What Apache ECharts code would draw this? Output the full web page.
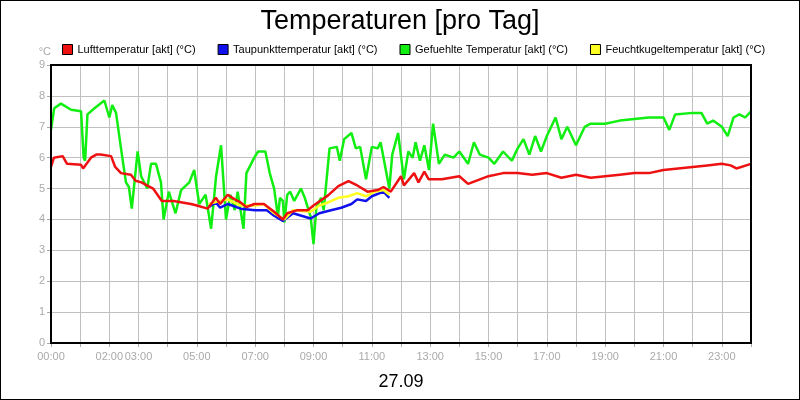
<!DOCTYPE html>
<html>
<head>
<meta charset="utf-8">
<script src="https://cdn.jsdelivr.net/npm/echarts@6/dist/echarts.min.js"></script>
<style>
html,body{margin:0;padding:0;background:#fff;}
#main{width:798px;height:398px;border:1px solid #000;}
</style>
</head>
<body>
<div id="main"></div>
<script>
// Zeit in Stunden, Wert in °C
var hourLabels = [0, 2, 3, 5, 7, 9, 11, 13, 15, 17, 19, 21, 23];

var luftTemp = [
  [0,5.7],[0.1,6.0],[0.4,6.05],[0.55,5.8],[1.03,5.77],[1.1,5.65],[1.37,6.0],[1.55,6.1],[1.7,6.1],[2.06,6.05],
  [2.2,5.7],[2.4,5.5],[2.74,5.45],[2.9,5.25],[3.1,5.2],[3.5,5.0],[3.8,4.6],[4.2,4.6],[4.8,4.5],[5.0,4.45],
  [5.37,4.35],[5.65,4.7],[5.8,4.5],[6.06,4.8],[6.3,4.65],[6.5,4.55],[6.7,4.4],[6.97,4.5],[7.3,4.5],[7.65,4.25],
  [7.95,4.0],[8.1,4.2],[8.45,4.3],[8.8,4.3],[9.0,4.45],[9.5,4.78],[9.85,5.08],[10.2,5.24],[10.5,5.1],[10.85,4.9],
  [11.2,4.95],[11.4,5.05],[11.65,4.9],[12.0,5.4],[12.1,5.1],[12.45,5.5],[12.6,5.2],[12.8,5.55],[12.95,5.3],[13.4,5.3],
  [14.0,5.4],[14.3,5.15],[15.0,5.4],[15.5,5.5],[16.0,5.5],[16.5,5.45],[17.0,5.5],[17.5,5.35],[18.0,5.45],[18.5,5.35],
  [19.0,5.4],[19.5,5.45],[20.0,5.5],[20.5,5.5],[21.0,5.6],[21.5,5.65],[22.0,5.7],[22.5,5.75],[23.0,5.8],[23.3,5.75],
  [23.5,5.65],[24.0,5.8]
];

var taupunktTemp = [
  [5.4,4.4],[5.65,4.55],[5.8,4.38],[6.06,4.5],[6.5,4.35],[7.0,4.3],[7.4,4.3],[7.65,4.12],[7.95,3.95],[8.3,4.2],
  [8.9,4.03],[9.2,4.2],[9.6,4.3],[9.95,4.38],[10.3,4.5],[10.5,4.65],[10.8,4.6],[11.0,4.75],[11.4,4.9],[11.6,4.7]
];

var gefuehlteTemp = [
  [0,6.9],[0.11,7.6],[0.34,7.75],[0.69,7.55],[1.03,7.5],[1.12,6.0],[1.17,5.9],[1.25,7.4],[1.49,7.6],[1.83,7.85],
  [2.0,7.3],[2.1,7.7],[2.23,7.45],[2.4,6.3],[2.57,5.2],[2.67,5.05],[2.77,4.35],[2.97,6.2],[3.09,5.4],[3.3,5.0],
  [3.43,5.8],[3.6,5.8],[3.77,5.2],[3.86,4.0],[4.04,4.9],[4.27,4.2],[4.46,4.95],[4.74,5.2],[4.91,5.6],[5.08,4.5],
  [5.3,4.8],[5.49,3.7],[5.66,5.4],[5.83,6.4],[6.0,4.0],[6.15,4.8],[6.3,4.3],[6.4,4.9],[6.6,3.7],[6.7,5.5],
  [6.97,6.0],[7.1,6.2],[7.35,6.2],[7.5,5.5],[7.65,5.0],[7.78,4.1],[7.85,4.7],[7.95,4.6],[8.0,3.9],[8.1,4.8],
  [8.2,4.9],[8.34,4.6],[8.57,5.0],[8.7,4.7],[8.9,4.1],[9.0,3.2],[9.1,4.4],[9.26,4.7],[9.35,4.3],[9.55,6.3],
  [9.8,6.35],[9.9,5.9],[10.05,6.6],[10.3,6.8],[10.45,6.3],[10.6,6.35],[10.8,5.3],[11.0,6.35],[11.2,6.3],[11.3,6.5],
  [11.6,5.0],[11.7,6.1],[11.9,6.8],[12.1,5.3],[12.25,6.2],[12.4,6.0],[12.5,6.5],[12.65,5.9],[12.8,6.4],[12.96,5.6],
  [13.1,7.1],[13.3,5.8],[13.5,6.1],[13.8,6.0],[14.0,6.2],[14.3,5.8],[14.5,6.5],[14.7,6.1],[15.0,6.0],[15.2,5.8],
  [15.5,6.2],[15.8,5.9],[16.0,6.3],[16.2,6.6],[16.4,6.1],[16.6,6.7],[16.8,6.2],[17.0,6.7],[17.3,7.3],[17.5,6.6],
  [17.7,7.0],[18.0,6.4],[18.3,7.0],[18.5,7.1],[19.0,7.1],[19.5,7.2],[20.0,7.25],[20.5,7.3],[21.0,7.3],[21.2,6.9],
  [21.4,7.4],[22.0,7.45],[22.3,7.45],[22.5,7.1],[22.7,7.2],[23.0,7.0],[23.2,6.7],[23.4,7.3],[23.6,7.4],[23.8,7.3],
  [24.0,7.5]
];

var feuchtkugelTemp = [
  [5.4,4.5],[5.8,4.6],[6.06,4.65],[6.5,4.45],[7.0,4.45],[7.3,4.5],[7.65,4.2],[8.0,4.0],[8.3,4.3],[8.9,4.25],
  [9.2,4.45],[9.5,4.55],[9.85,4.7],[10.2,4.75],[10.5,4.85],[10.8,4.75],[11.1,4.9],[11.4,4.95],[11.6,4.8]
];

var myChart = echarts.init(document.getElementById('main'));
var fontName = 'Liberation Sans';
var option = {
    animation: false,
    textStyle: {fontFamily: fontName},
    title: {
        text: 'Temperaturen [pro Tag]',
        left: 'center',
        top: 2,
        textStyle: {fontSize: 27, fontWeight: 'normal', color: '#000', fontFamily: fontName}
    },
    legend: {
        top: 38,
        left: 56,
        itemWidth: 10,
        itemHeight: 10,
        itemGap: 22,
        icon: 'rect',
        textStyle: {fontSize: 11, color: '#000', fontFamily: fontName},
        data: [
            {name: 'Lufttemperatur [akt] (°C)', itemStyle: {borderColor: '#000', borderWidth: 1}},
            {name: 'Taupunkttemperatur [akt] (°C)', itemStyle: {borderColor: '#000', borderWidth: 1}},
            {name: 'Gefuehlte Temperatur [akt] (°C)', itemStyle: {borderColor: '#000', borderWidth: 1}},
            {name: 'Feuchtkugeltemperatur [akt] (°C)', itemStyle: {borderColor: '#000', borderWidth: 1}}
        ]
    },
    grid: {left: 50, right: 48, top: 64, bottom: 56},
    xAxis: {
        type: 'value',
        min: 0,
        max: 24,
        interval: 1,
        name: '27.09',
        nameLocation: 'middle',
        nameGap: 30,
        nameTextStyle: {fontSize: 18, color: '#000'},
        axisLine: {lineStyle: {color: '#000', width: 2}},
        axisTick: {show: true, length: 4, lineStyle: {color: '#aaa'}},
        axisLabel: {
            color: '#aaa',
            fontSize: 11,
            formatter: function (v) {
                if (hourLabels.indexOf(v) < 0) return '';
                return (v < 10 ? '0' : '') + v + ':00';
            }
        },
        splitLine: {show: true, lineStyle: {color: '#c0c0c0'}}
    },
    yAxis: {
        type: 'value',
        min: 0,
        max: 9,
        interval: 1,
        name: '°C',
        nameGap: 8,
        nameTextStyle: {color: '#aaa', fontSize: 11, align: 'right'},
        axisLine: {show: true, lineStyle: {color: '#000', width: 2}},
        axisTick: {show: true, length: 4, lineStyle: {color: '#aaa'}},
        axisLabel: {color: '#aaa', fontSize: 11, margin: 6},
        splitLine: {show: true, lineStyle: {color: '#c0c0c0'}}
    },
    series: [
        {
            name: 'Lufttemperatur [akt] (°C)', type: 'line', data: luftTemp, z: 5,
            showSymbol: false, color: '#ee1111', lineStyle: {width: 2.5}
        },
        {
            name: 'Taupunkttemperatur [akt] (°C)', type: 'line', data: taupunktTemp, z: 3,
            showSymbol: false, color: '#1111ee', lineStyle: {width: 2.5}
        },
        {
            name: 'Gefuehlte Temperatur [akt] (°C)', type: 'line', data: gefuehlteTemp, z: 2,
            showSymbol: false, color: '#11ee11', lineStyle: {width: 2.5}
        },
        {
            name: 'Feuchtkugeltemperatur [akt] (°C)', type: 'line', data: feuchtkugelTemp, z: 4,
            showSymbol: false, color: '#ffff22', lineStyle: {width: 2.5}
        }
    ],
    // Rahmen oben/rechts
    graphic: [{
        type: 'rect',
        shape: {x: 50, y: 64, width: 700, height: 278},
        style: {fill: 'none', stroke: '#000', lineWidth: 2},
        silent: true,
        z: 10
    }]
};
myChart.setOption(option);
</script>
</body>
</html>
